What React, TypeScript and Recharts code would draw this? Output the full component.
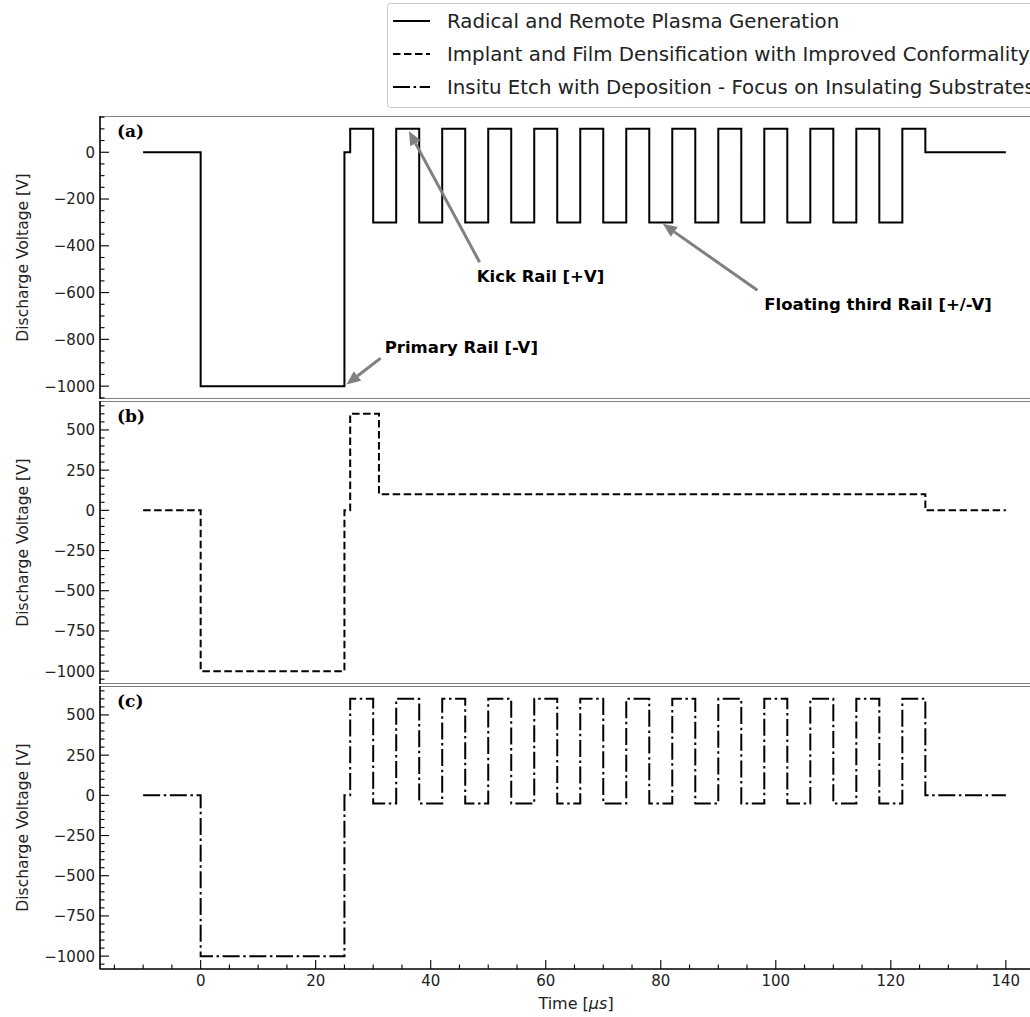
import React from "react";
import { LineChart, Line, XAxis, YAxis, ReferenceArea, ReferenceLine, ReferenceDot } from "recharts";

// step breakpoints (µs) and the voltage held from each breakpoint on (V)
const pulseTimes = [-10, 0, 25, 26, 30, 34, 38, 42, 46, 50, 54, 58, 62, 66, 70, 74, 78, 82, 86, 90, 94, 98, 102, 106, 110, 114, 118, 122, 126, 140];
const radicalVolts = [0, -1000, 0, 100, -300, 100, -300, 100, -300, 100, -300, 100, -300, 100, -300, 100, -300, 100, -300, 100, -300, 100, -300, 100, -300, 100, -300, 100, 0, 0];
const etchVolts = [0, -1000, 0, 600, -50, 600, -50, 600, -50, 600, -50, 600, -50, 600, -50, 600, -50, 600, -50, 600, -50, 600, -50, 600, -50, 600, -50, 600, 0, 0];
const implantTimes = [-10, 0, 25, 26, 31, 126, 140];
const implantVolts = [0, -1000, 0, 600, 100, 0, 0];

const seriesNames = [
  "Radical and Remote Plasma Generation",
  "Implant and Film Densification with Improved Conformality",
  "Insitu Etch with Deposition - Focus on Insulating Substrates",
];

const xDomain = [-17.5, 147.5];
const xMajorTicks = [0, 20, 40, 60, 80, 100, 120, 140];
const topDomain = [-1055, 155];
const topMajorTicks = [-1000, -800, -600, -400, -200, 0];
const lowDomain = [-1080, 680];
const lowMajorTicks = [-1000, -750, -500, -250, 0, 250, 500];

const steps = (from: number, to: number, step: number) => {
  const out: number[] = [];
  for (let v = from; v <= to; v += step) out.push(v);
  return out;
};
const xAllTicks = steps(-15, 145, 5);
const topAllTicks = steps(-1050, 150, 50);
const lowAllTicks = steps(-1050, 650, 50);

const toRows = (times: number[], volts: number[]) => times.map((t, i) => ({ t, v: volts[i] }));

const FONT = "DejaVu Sans, sans-serif";
const PLOT_LEFT = 100;
const PLOT_H = 283;
const CHART_W = 1061;
const TICK_FS = 15;
const DASHED = "7.5 3.5";
const DASHDOT = "17 3.6 2.5 3.6";

const fmt = (v: number) => String(v).replace("-", "\u2212");

const makeYTick = (majors: number[]) => (props: any) => {
  const { y, payload } = props;
  const major = majors.includes(payload.value);
  return (
    <g>
      <line x1={PLOT_LEFT} x2={PLOT_LEFT + (major ? 9 : 4.5)} y1={y} y2={y} stroke="#000" strokeWidth={1.1} />
      {major && (
        <text x={PLOT_LEFT - 5} y={y} dy="0.36em" textAnchor="end" fontFamily={FONT} fontSize={TICK_FS} fill="#222">
          {fmt(payload.value)}
        </text>
      )}
    </g>
  );
};

const makeXTick = (labels: boolean) => (props: any) => {
  const { x, payload } = props;
  const major = xMajorTicks.includes(payload.value);
  return (
    <g>
      <line x1={x} x2={x} y1={PLOT_H} y2={PLOT_H - (major ? 9 : 4.5)} stroke="#000" strokeWidth={1.1} />
      {labels && major && (
        <text x={x} y={PLOT_H + 17} textAnchor="middle" fontFamily={FONT} fontSize={TICK_FS} fill="#222">
          {fmt(payload.value)}
        </text>
      )}
    </g>
  );
};

const arrowShape = (props: any) => {
  const { x1, y1, x2, y2 } = props;
  const dx = x2 - x1;
  const dy = y2 - y1;
  const len = Math.hypot(dx, dy) || 1;
  const ux = dx / len;
  const uy = dy / len;
  const tx = x2 - ux * 2.5;
  const ty = y2 - uy * 2.5;
  const bx = tx - ux * 14;
  const by = ty - uy * 14;
  const px = -uy * 6;
  const py = ux * 6;
  return (
    <g>
      <line x1={x1} y1={y1} x2={bx} y2={by} stroke="#808080" strokeWidth={3} />
      <polygon points={`${tx},${ty} ${bx + px},${by + py} ${bx - px},${by - py}`} fill="#808080" />
    </g>
  );
};

const noteShape = (text: string) => (props: any) => (
  <text x={props.cx} y={props.cy} dy="0.36em" fontFamily={FONT} fontWeight="bold" fontSize={16.5} fill="#000">
    {text}
  </text>
);

interface PanelProps {
  rows: Array<{ t: number; v: number }>;
  dash?: string;
  yDomain: number[];
  yTicks: number[];
  yMajors: number[];
  top: number;
  xLabels?: boolean;
  children?: React.ReactNode;
}

function Panel({ rows, dash, yDomain, yTicks, yMajors, top, xLabels = false, children }: PanelProps) {
  const axisH = xLabels ? 45 : 0;
  return (
    <div style={{ position: "absolute", left: 0, top }}>
      <LineChart width={CHART_W} height={PLOT_H + axisH} data={rows} margin={{ top: 0, right: 12, bottom: 0, left: 0 }}>
        <XAxis
          dataKey="t"
          type="number"
          domain={xDomain}
          allowDataOverflow
          ticks={xAllTicks}
          interval={0}
          height={axisH}
          tickLine={false}
          tickSize={0}
          axisLine={{ stroke: "#000", strokeWidth: 1.1 }}
          tick={makeXTick(xLabels)}
        />
        <YAxis
          type="number"
          domain={yDomain}
          allowDataOverflow
          ticks={yTicks}
          interval={0}
          width={PLOT_LEFT}
          tickLine={false}
          tickSize={0}
          axisLine={{ stroke: "#000", strokeWidth: 1.1 }}
          tick={makeYTick(yMajors)}
        />
        <ReferenceArea
          x1={xDomain[0]}
          x2={xDomain[1]}
          y1={yDomain[0]}
          y2={yDomain[1]}
          fill="none"
          stroke="#000"
          strokeWidth={1.1}
          ifOverflow="visible"
        />
        <Line
          dataKey="v"
          type="stepAfter"
          stroke="#000"
          strokeWidth={2}
          strokeDasharray={dash}
          dot={false}
          activeDot={false}
          isAnimationActive={false}
        />
        {children}
      </LineChart>
    </div>
  );
}

export default function App() {
  const legendRows = [
    { y: 21, dash: undefined },
    { y: 54, dash: DASHED },
    { y: 87, dash: DASHDOT },
  ];
  return (
    <div style={{ position: "absolute", left: 0, top: 0, width: 1030, height: 1017, overflow: "hidden", background: "#fff" }}>
      <Panel rows={toRows(pulseTimes, radicalVolts)} yDomain={topDomain} yTicks={topAllTicks} yMajors={topMajorTicks} top={116}>
        <ReferenceLine segment={[{ x: 48.5, y: -470 }, { x: 36, y: 100 }]} shape={arrowShape} ifOverflow="visible" />
        <ReferenceLine segment={[{ x: 96.8, y: -590 }, { x: 80, y: -300 }]} shape={arrowShape} ifOverflow="visible" />
        <ReferenceLine segment={[{ x: 31.3, y: -880 }, { x: 25, y: -1000 }]} shape={arrowShape} ifOverflow="visible" />
        <ReferenceDot x={48} y={-530} shape={noteShape("Kick Rail [+V]")} ifOverflow="visible" />
        <ReferenceDot x={98} y={-650} shape={noteShape("Floating third Rail [+/-V]")} ifOverflow="visible" />
        <ReferenceDot x={32} y={-833} shape={noteShape("Primary Rail [-V]")} ifOverflow="visible" />
      </Panel>
      <Panel rows={toRows(implantTimes, implantVolts)} dash={DASHED} yDomain={lowDomain} yTicks={lowAllTicks} yMajors={lowMajorTicks} top={401} />
      <Panel rows={toRows(pulseTimes, etchVolts)} dash={DASHDOT} yDomain={lowDomain} yTicks={lowAllTicks} yMajors={lowMajorTicks} top={686} xLabels />

      <svg width={1030} height={1017} style={{ position: "absolute", left: 0, top: 0, pointerEvents: "none" }}>
        <rect x={387.5} y={3.5} width={700} height={104} rx={3} fill="#fff" stroke="#cccccc" />
        {legendRows.map((r, i) => (
          <g key={i}>
            <line x1={393} x2={430} y1={r.y} y2={r.y} stroke="#000" strokeWidth={2} strokeDasharray={r.dash} />
            <text x={447} y={r.y} dy="0.36em" fontFamily={FONT} fontSize={19.8} fill="#222">
              {seriesNames[i]}
            </text>
          </g>
        ))}
        {[
          { label: "(a)", y: 131 },
          { label: "(b)", y: 416 },
          { label: "(c)", y: 701 },
        ].map((p) => (
          <text key={p.label} x={117} y={p.y} dy="0.36em" fontFamily="DejaVu Serif, serif" fontWeight="bold" fontSize={17} fill="#000">
            {p.label}
          </text>
        ))}
        {[257.5, 542.5, 827.5].map((cy) => (
          <text
            key={cy}
            x={22}
            y={cy}
            transform={`rotate(-90 22 ${cy})`}
            dy="0.36em"
            textAnchor="middle"
            fontFamily={FONT}
            fontSize={15.5}
            fill="#222"
          >
            Discharge Voltage [V]
          </text>
        ))}
        <text x={576} y={1003} dy="0.36em" textAnchor="middle" fontFamily={FONT} fontSize={16} fill="#222">
          Time [<tspan fontStyle="italic">μs</tspan>]
        </text>
      </svg>
    </div>
  );
}
